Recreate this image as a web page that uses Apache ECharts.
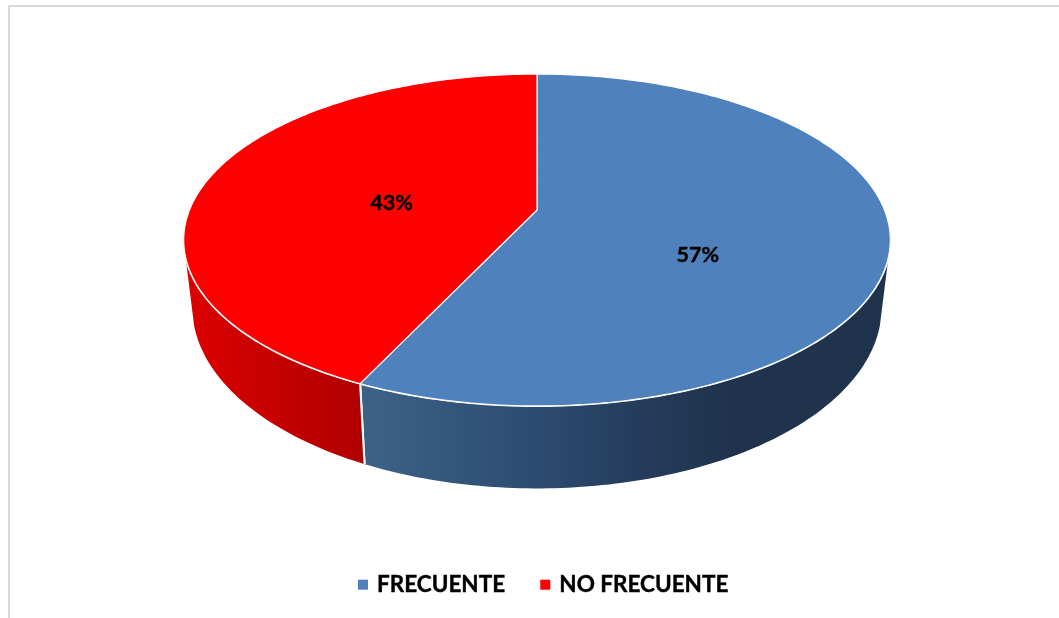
<!DOCTYPE html>
<html>
<head>
<meta charset="utf-8">
<style>html,body{margin:0;padding:0;background:#fff}#c{width:1059px;height:618px}</style>
<script src="https://cdn.jsdelivr.net/npm/echarts@6/dist/echarts.min.js"></script>
</head>
<body>
<div id="c"></div>
<script>
const categories = ['FRECUENTE', 'NO FRECUENTE'];
const percents = [57, 43];
const topColors = ['#4f81bd', '#ff0000'];
const wallStops = [
  [[0, '#3d6288'], [0.35, '#2c4a6f'], [0.55, '#243b59'], [0.7, '#1f334d'], [1, '#1f334d']],
  [[0, '#dc0000'], [1, '#b00000']]
];
const labelOffsets = [[5.5, 29], [4.5, 9]];
const labelFont = 'bold 21.5px Lato, Carlito, sans-serif';

// perspective disc layout: top face and bottom face
const topFace = {cx: 537, d: 347.5, A: -122.6, B: 210, c: 0.1807};
const botFace = {cx: 537, d: 339, A: -125.7, B: 274.8, c: 0.18};
const DEG = Math.PI / 180;
const wallFrom = 106 * DEG, wallTo = 254 * DEG;
const rimFrom = 108 * DEG, rimTo = 252 * DEG;
const TAU = Math.PI * 2;
const total = percents.reduce((a, b) => a + b, 0);

function project(f, theta, r) {
  const u = Math.sin(theta) * r, t = Math.cos(theta) * r, w = 1 + f.c * t;
  return [f.cx + f.d * u / w, (f.A * t + f.B) / w];
}
function arc(f, a, b) {
  const n = Math.max(2, Math.ceil(Math.abs(b - a) * 60)), pts = [];
  for (let i = 0; i <= n; i++) pts.push(project(f, a + (b - a) * i / n, 1));
  return pts;
}
function makeRender(idx) {
  const before = percents.slice(0, idx).reduce((a, b) => a + b, 0);
  const a0 = before / total * TAU, a1 = (before + percents[idx]) / total * TAU;
  return function () {
    const children = [];
    const wa = Math.max(a0, wallFrom), wb = Math.min(a1, wallTo);
    if (wb > wa) {
      const pts = arc(topFace, wa, wb).concat(arc(botFace, wa, wb).reverse());
      const xs = pts.map(p => p[0]);
      const x0 = Math.min.apply(null, xs), x1 = Math.max.apply(null, xs);
      children.push({
        type: 'polygon', shape: {points: pts},
        style: {
          fill: new echarts.graphic.LinearGradient(x0, 0, x1, 0,
            wallStops[idx].map(s => ({offset: s[0], color: s[1]})), true)
        }
      });
      // white seams: rim along the wall and the vertical slice edge
      children.push({
        type: 'polyline', shape: {points: arc(topFace, Math.max(a0, rimFrom), Math.min(a1, rimTo))},
        style: {fill: null, stroke: '#fff', lineWidth: 2}
      });
      const edge = a0 > wallFrom && a0 < wallTo ? a0 : (a1 > wallFrom && a1 < wallTo ? a1 : null);
      if (edge !== null) {
        children.push({
          type: 'line',
          shape: (function (p, q) { return {x1: p[0], y1: p[1], x2: q[0], y2: q[1]}; })(project(topFace, edge, 1), project(botFace, edge, 1)),
          style: {stroke: '#fff', lineWidth: 2}
        });
      }
    }
    const c = project(topFace, 0, 0);
    children.push({
      type: 'polygon', z2: 5,
      shape: {points: [c].concat(arc(topFace, a0, a1))},
      style: {fill: topColors[idx], stroke: '#fff', lineWidth: 1.2, lineJoin: 'round'}
    });
    const mid = project(topFace, (a0 + a1) / 2, 0.45);
    children.push({
      type: 'text', z2: 10,
      style: {
        x: mid[0] + labelOffsets[idx][0], y: mid[1] + labelOffsets[idx][1],
        text: Math.round(percents[idx] / total * 100) + '%',
        font: labelFont, fill: '#000', stroke: '#000', lineWidth: 0.4, align: 'center', verticalAlign: 'middle'
      }
    });
    return {type: 'group', children: children};
  };
}

const chart = echarts.init(document.getElementById('c'), null, {renderer: 'canvas'});
chart.setOption({
  animation: false,
  backgroundColor: '#fff',
  graphic: [
    {type: 'rect', shape: {x: 8, y: 5, width: 1051, height: 2}, style: {fill: '#d9d9d9'}, silent: true},
    {type: 'rect', shape: {x: 8, y: 5, width: 2, height: 613}, style: {fill: '#d9d9d9'}, silent: true}
  ],
  legend: {
    left: 353, top: 568, itemWidth: 10, itemHeight: 10, itemGap: 35,
    icon: 'rect',
    data: categories,
    textStyle: {
      fontFamily: 'Lato, sans-serif', fontWeight: 'bold', fontSize: 22.5, color: '#000',
      padding: [0, 0, 0, 4], textBorderColor: '#000', textBorderWidth: 0.4
    }
  },
  series: categories.map((name, i) => ({
    type: 'custom',
    name: name,
    coordinateSystem: 'none',
    itemStyle: {color: topColors[i]},
    data: [{name: name, value: percents[i]}],
    renderItem: makeRender(i),
    silent: true
  }))
});
</script>
</body>
</html>
